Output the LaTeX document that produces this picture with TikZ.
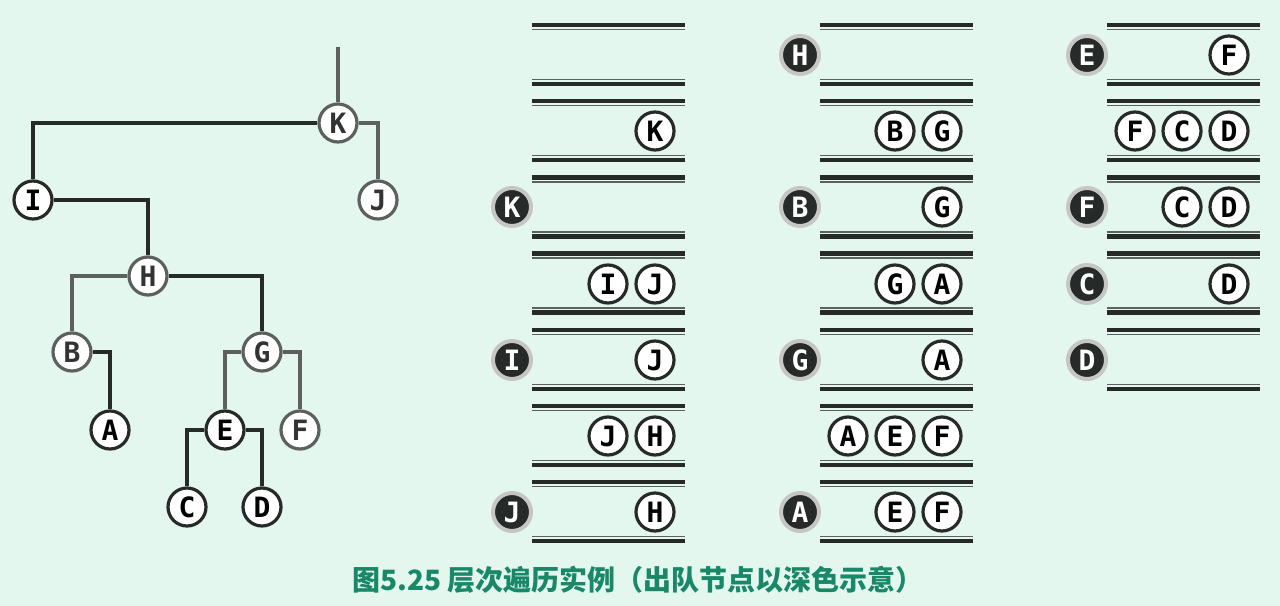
\documentclass[tikz,border=0pt]{standalone}
\usepackage{fontspec}
\newfontfamily\lettfont{DejaVu Sans Mono}
\newfontfamily\cjk{Noto Sans CJK SC}
\definecolor{mintbg}{RGB}{228,247,238}
\definecolor{inkdark}{RGB}{38,42,40}
\definecolor{inkgray}{RGB}{92,96,94}
\definecolor{captgreen}{RGB}{24,136,104}

\begin{document}
\begin{tikzpicture}[x=0.75pt, y=-0.75pt,
    tnode/.style={circle, draw=inkdark, line width=2.4pt, fill=white,
        minimum size=28.5pt, inner sep=0pt,
        font=\lettfont\bfseries\fontsize{21}{21}\selectfont},
    tnode gray/.style={tnode, draw=inkgray, text=black!80},
    tedge/.style={draw=inkdark, line width=3pt},
    tedge gray/.style={tedge, draw=inkgray},
    qnode/.style={tnode},
    outnode/.style={tnode, fill=inkdark, text=white, draw=gray!45, line width=3pt},
    qbar/.style={draw=inkdark, line width=3.2pt},
    qthin/.style={draw=inkgray, line width=1.1pt}]

\fill[mintbg] (0,0) rectangle (1280,606);

%% === ALBERO ===
\node[tnode gray] (K) at (338,123) {K};
\node[tnode gray] (J) at (378,200) {J};
\node[tnode]      (I) at (33,200)  {I};
\node[tnode gray] (H) at (148,276) {H};
\node[tnode gray] (B) at (72,352)  {B};
\node[tnode]      (A) at (110,430) {A};
\node[tnode gray] (G) at (262,352) {G};
\node[tnode]      (E) at (225,430) {E};
\node[tnode gray] (F) at (300,430) {F};
\node[tnode]      (C) at (187,507) {C};
\node[tnode]      (D) at (262,507) {D};
\coordinate (root) at (338,47);

\draw[tedge gray] (root) -- (K);
\draw[tedge]      (K.west) -| (I.north);
\draw[tedge gray] (K.east) -| (J.north);
\draw[tedge]      (I.east) -| (H.north);
\draw[tedge gray] (H.west) -| (B.north);
\draw[tedge]      (H.east) -| (G.north);
\draw[tedge]      (B.east) -| (A.north);
\draw[tedge gray] (G.west) -| (E.north);
\draw[tedge gray] (G.east) -| (F.north);
\draw[tedge]      (E.west) -| (C.north);
\draw[tedge]      (E.east) -| (D.north);

%% === CODA: righe delimitate da due barre ===
\foreach \x/\n in {532/6, 820/6, 1107/4} {
    \foreach \r in {0,...,\n} {
        \draw[qbar]  (\x,25+76.2*\r)   -- ++(153,0);
        \draw[qthin] (\x,29.5+76.2*\r) -- ++(153,0);
        \draw[qthin] (\x,79.5+76.2*\r) -- ++(153,0);
        \draw[qbar]  (\x,84+76.2*\r)   -- ++(153,0);
    }
}

%% colonna 1
\node[qnode]   (c1r1a) at (655,131) {K};
\node[outnode] (c1r2o) at (512,207) {K};
\node[qnode]   (c1r3a) at (608,284) {I};
\node[qnode]   (c1r3b) at (655,284) {J};
\node[outnode] (c1r4o) at (512,360) {I};
\node[qnode]   (c1r4a) at (655,360) {J};
\node[qnode]   (c1r5a) at (608,436) {J};
\node[qnode]   (c1r5b) at (655,436) {H};
\node[outnode] (c1r6o) at (512,512) {J};
\node[qnode]   (c1r6a) at (655,512) {H};

%% colonna 2
\node[outnode] (c2r0o) at (800,55)  {H};
\node[qnode]   (c2r1a) at (895,131) {B};
\node[qnode]   (c2r1b) at (942,131) {G};
\node[outnode] (c2r2o) at (800,207) {B};
\node[qnode]   (c2r2a) at (942,207) {G};
\node[qnode]   (c2r3a) at (895,284) {G};
\node[qnode]   (c2r3b) at (942,284) {A};
\node[outnode] (c2r4o) at (800,360) {G};
\node[qnode]   (c2r4a) at (942,360) {A};
\node[qnode]   (c2r5a) at (848,436) {A};
\node[qnode]   (c2r5b) at (895,436) {E};
\node[qnode]   (c2r5c) at (942,436) {F};
\node[outnode] (c2r6o) at (800,512) {A};
\node[qnode]   (c2r6a) at (895,512) {E};
\node[qnode]   (c2r6b) at (942,512) {F};

%% colonna 3
\node[outnode] (c3r0o) at (1087,55)  {E};
\node[qnode]   (c3r0a) at (1229,55)  {F};
\node[qnode]   (c3r1a) at (1135,131) {F};
\node[qnode]   (c3r1b) at (1182,131) {C};
\node[qnode]   (c3r1c) at (1229,131) {D};
\node[outnode] (c3r2o) at (1087,207) {F};
\node[qnode]   (c3r2a) at (1182,207) {C};
\node[qnode]   (c3r2b) at (1229,207) {D};
\node[outnode] (c3r3o) at (1087,284) {C};
\node[qnode]   (c3r3a) at (1229,284) {D};
\node[outnode] (c3r4o) at (1087,360) {D};

\node[font=\cjk\bfseries\fontsize{21}{21}\selectfont, text=captgreen] (caption)
    at (638,580) {图5.25 层次遍历实例（出队节点以深色示意）};

\end{tikzpicture}
\end{document}
